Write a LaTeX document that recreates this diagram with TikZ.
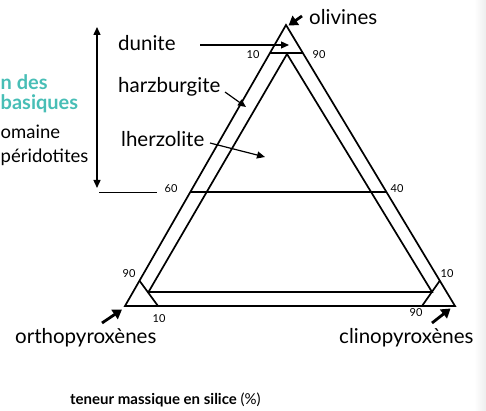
\documentclass[tikz,border=0pt]{standalone}
\usepackage{fontspec}
\setmainfont{Lato}
\usetikzlibrary{calc,arrows.meta}
\definecolor{turquoise}{RGB}{72,190,182}
\tikzset{
  edge/.style={line width=1.7pt,line join=miter},
  lead/.style={line width=1.2pt,-{Triangle[length=8pt,width=7pt]}},
  corner/.style={line width=2.8pt,-{Triangle[length=9pt,width=11pt]}},
  pct/.style={font=\fontsize{11}{13}\selectfont,inner sep=0pt},
  rock/.style={font=\fontsize{20.5}{24}\selectfont,inner sep=0pt,anchor=base west},
  side/.style={font=\fontsize{18.5}{22}\selectfont,inner sep=0pt,anchor=base west},
}
\begin{document}
\begin{tikzpicture}[x=1pt,y=-1pt]
	\useasboundingbox (0,0) rectangle (486,411);
	% edge of the scanned page
	\shade[left color=white,right color=black!7] (474,0) rectangle (486,411);
	% corners of the ternary diagram
	\coordinate (ol) at (286,25);
	\coordinate (opx) at (125,306);
	\coordinate (cpx) at (455,306);
	\draw[edge] (ol) -- (opx) -- (cpx) -- cycle;
	% 90 % olivine and 60/40 lines
	\coordinate (d1) at ($(ol)!0.1!(opx)$);
	\coordinate (d2) at ($(ol)!0.1!(cpx)$);
	\draw[edge] (d1) -- (d2);
	\coordinate (m1) at ($(ol)!0.595!(opx)$);
	\coordinate (m2) at ($(ol)!0.595!(cpx)$);
	\draw[edge] (m1) -- (m2);
	% corner lines at 90/10
	\coordinate (l1) at ($(opx)!0.09!(ol)$);
	\coordinate (l2) at ($(opx)!0.1!(cpx)$);
	\draw[edge] (l1) -- (l2);
	\coordinate (r1) at ($(cpx)!0.09!(ol)$);
	\coordinate (r2) at ($(cpx)!0.1!(opx)$);
	\draw[edge] (r1) -- (r2);
	% inner triangle
	\coordinate (i1) at (287,54);
	\coordinate (i2) at (148.5,292);
	\coordinate (i3) at (432,292);
	\draw[edge] (i1) -- (i2) -- (i3) -- cycle;
	% percentages
	\node[pct] (p10a) at (253,55) {10};
	\node[pct] (p90a) at (319,55) {90};
	\node[pct] (p60) at (171,189) {60};
	\node[pct] (p40) at (397,189) {40};
	\node[pct] (p90b) at (129,274) {90};
	\node[pct] (p10b) at (159,319) {10};
	\node[pct] (p10c) at (447,274) {10};
	\node[pct] (p90c) at (416,313) {90};
	% poles
	\node[rock] (olivines) at (309,25) {olivines};
	\node[rock] (opxlab) at (15,343) {orthopyroxènes};
	\node[rock] (cpxlab) at (339,343) {clinopyroxènes};
	\coordinate (olt) at (302,16);
	\coordinate (opxt) at (102,323);
	\coordinate (cpxt) at (432,323);
	\draw[corner] (olt) -- (288.5,25.5);
	\draw[corner] (opxt) -- (122,309.5);
	\draw[corner] (cpxt) -- (450.5,308.5);
	% rocks
	\node[rock] (dunite) at (118,51) {dunite};
	\node[rock] (harz) at (118,93) {harzburgite};
	\node[rock] (lherz) at (121,147) {lherzolite};
	\coordinate (dun0) at (200,45);
	\coordinate (dun1) at (289,45);
	\draw[lead] (dun0) -- (dun1);
	\coordinate (har0) at (225,92);
	\coordinate (har1) at (246,107);
	\draw[lead] (har0) -- (har1);
	\coordinate (lhe0) at (210,143);
	\coordinate (lhe1) at (265,157);
	\draw[lead] (lhe0) -- (lhe1);
	% range of the peridotites
	\coordinate (up) at (97,27);
	\coordinate (down) at (97,188);
	\draw[line width=1.4pt,{Triangle[length=8pt,width=7pt]}-{Triangle[length=8pt,width=7pt]}] (up) -- (down);
	\coordinate (t0) at (99,192.5);
	\coordinate (t1) at (157,192.5);
	\draw[line width=1.5pt] (t0) -- (t1);
	% text cut by the margin
	\node[side,font=\fontsize{20}{24}\selectfont\bfseries,text=turquoise] (cap1) at (0.5,90) {n des};
	\node[side,font=\fontsize{20}{24}\selectfont\bfseries,text=turquoise] (cap2) at (0.5,110) {basiques};
	\node[side] (cap3) at (0.5,139) {omaine};
	\node[side] (cap4) at (0.5,163) {péridotites};
	% axis title
	\node[inner sep=0pt,anchor=base west] (silice) at (70,404) {\fontsize{15}{17}\selectfont\bfseries teneur massique en silice \mdseries(\%)};
\end{tikzpicture}
\end{document}
